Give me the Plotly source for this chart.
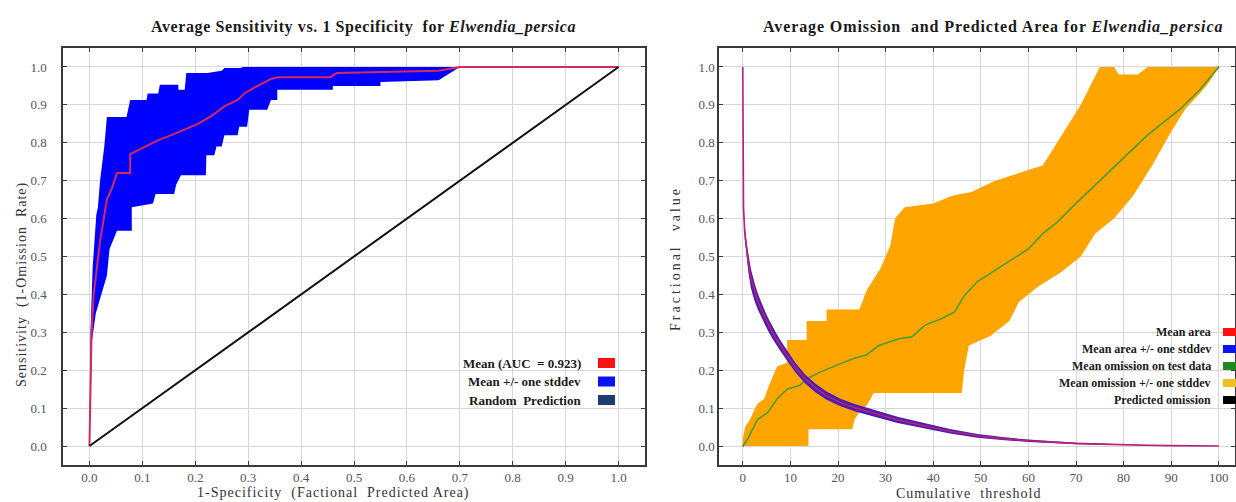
import plotly.graph_objects as go

W, H = 1236, 502

# ---------------- Left chart: ROC ----------------
roc_mean_x = [0, 0.002, 0.004, 0.008, 0.0125, 0.02, 0.033, 0.0425, 0.052, 0.077, 0.077, 0.105,
              0.13, 0.155, 0.18, 0.205, 0.23, 0.255, 0.28, 0.2925, 0.3175, 0.3425, 0.355,
              0.455, 0.4675, 0.58, 0.66, 0.70, 1.0]
roc_mean_y = [0, 0.15, 0.30, 0.40, 0.45, 0.54, 0.65, 0.68, 0.72, 0.72, 0.77, 0.79,
              0.807, 0.82, 0.834, 0.85, 0.87, 0.896, 0.913, 0.93, 0.95, 0.968, 0.973,
              0.973, 0.984, 0.988, 0.99, 1.0, 1.0]

roc_upper_x = [0, 0.002, 0.006, 0.013, 0.016, 0.02, 0.028, 0.033, 0.07, 0.077, 0.108, 0.11,
               0.13, 0.133, 0.168, 0.168, 0.18, 0.183, 0.223, 0.25, 0.255, 0.286, 0.29, 1.0]
roc_upper_y = [0, 0.30, 0.47, 0.61, 0.63, 0.70, 0.79, 0.868, 0.868, 0.913, 0.913, 0.93,
               0.93, 0.953, 0.953, 0.94, 0.94, 0.984, 0.984, 0.99, 0.997, 0.997, 1.0, 1.0]

roc_lower_x = [0, 0.003, 0.005, 0.012, 0.024, 0.033, 0.038, 0.052, 0.08, 0.08, 0.12, 0.125,
               0.16, 0.164, 0.173, 0.22, 0.221, 0.236, 0.24, 0.25, 0.255, 0.28, 0.283, 0.298,
               0.302, 0.336, 0.343, 0.355, 0.355, 0.46, 0.46, 0.55, 0.55, 0.66, 0.70, 1.0]
roc_lower_y = [0, 0.20, 0.28, 0.35, 0.41, 0.45, 0.52, 0.568, 0.568, 0.63, 0.64, 0.665,
               0.665, 0.69, 0.714, 0.714, 0.767, 0.767, 0.79, 0.79, 0.82, 0.82, 0.842, 0.842,
               0.887, 0.887, 0.913, 0.913, 0.94, 0.94, 0.95, 0.95, 0.96, 0.965, 1.0, 1.0]

random_x = [0, 1]
random_y = [0, 1]

# ---------------- Right chart: omission / area ----------------
area_x = [0, 0.03, 0.15, 0.4, 0.8, 1.2, 1.7, 2.5, 3.2, 4.1, 5.1, 6.2, 7.0, 7.9, 9.5, 11.0,
          13.1, 15.3, 17.6, 20.5, 23.8, 27.2, 32.5, 38.3, 43.5, 49.3, 55, 60, 65, 70, 75,
          80, 85, 90, 95, 100]
area_mean = [1.0, 0.72, 0.63, 0.565, 0.515, 0.48, 0.442, 0.405, 0.38, 0.354, 0.326, 0.300,
             0.283, 0.265, 0.235, 0.208, 0.177, 0.153, 0.133, 0.115, 0.100, 0.088, 0.069,
             0.053, 0.039, 0.027, 0.019, 0.014, 0.010, 0.007, 0.005, 0.003, 0.002, 0.001,
             0.0005, 0.0]
area_sd = [0.0, 0.004, 0.012, 0.018, 0.022, 0.025, 0.026, 0.024, 0.021, 0.019, 0.017, 0.016,
           0.015, 0.014, 0.013, 0.0125, 0.012, 0.0115, 0.011, 0.010, 0.0095, 0.009, 0.008,
           0.007, 0.006, 0.005, 0.004, 0.003, 0.0025, 0.002, 0.0015, 0.001, 0.0008,
           0.0005, 0.0003, 0.0]

om_mean_x = [0, 1, 3.1, 5.2, 7.2, 9.3, 12, 13.4, 16.2, 19.7, 23.1, 25.9, 28.6, 32.8, 35.5,
             38.3, 41.7, 44.5, 46.6, 49.3, 55, 60, 63, 66, 70, 75, 80, 85, 90, 92, 96, 98, 100]
om_mean_y = [0, 0.018, 0.07, 0.088, 0.124, 0.15, 0.16, 0.177, 0.195, 0.212, 0.23, 0.24,
             0.265, 0.283, 0.288, 0.319, 0.336, 0.354, 0.398, 0.434, 0.48, 0.52, 0.56, 0.59,
             0.64, 0.70, 0.76, 0.82, 0.87, 0.89, 0.94, 0.97, 1.0]

om_upper_x = [0, 0.5, 1.5, 3, 4.5, 5.5, 7.2, 9.3, 9.3, 13.4, 13.4, 17.6, 17.6, 24.5, 26,
              27.5, 29, 31, 32, 34, 40, 44, 48, 53, 58, 63, 66, 69, 71, 73, 75, 78, 79, 83,
              85, 100]
om_upper_y = [0.02, 0.05, 0.07, 0.11, 0.125, 0.16, 0.21, 0.22, 0.28, 0.28, 0.33, 0.33, 0.36,
              0.36, 0.41, 0.44, 0.47, 0.53, 0.60, 0.63, 0.64, 0.66, 0.67, 0.70, 0.72, 0.74,
              0.80, 0.86, 0.90, 0.95, 1.0, 1.0, 0.98, 0.98, 1.0, 1.0]

om_lower_x = [0, 13.8, 13.8, 23, 23.5, 24.5, 26, 27.5, 46, 46.5, 47.5, 52, 56, 58, 62, 67,
              71, 74, 78, 82, 86, 90, 93, 96, 98, 100]
om_lower_y = [0, 0, 0.044, 0.044, 0.07, 0.09, 0.106, 0.14, 0.14, 0.20, 0.265, 0.29, 0.33,
              0.38, 0.42, 0.46, 0.50, 0.56, 0.60, 0.66, 0.74, 0.83, 0.89, 0.93, 0.96, 1.0]

pred_om_x = [0, 100]
pred_om_y = [0, 1]

x_ticks_left = [0, 0.1, 0.2, 0.3, 0.4, 0.5, 0.6, 0.7, 0.8, 0.9, 1.0]
x_ticktext_left = ["0.0", "0.1", "0.2", "0.3", "0.4", "0.5", "0.6", "0.7", "0.8", "0.9", "1.0"]
y_ticks = [0, 0.1, 0.2, 0.3, 0.4, 0.5, 0.6, 0.7, 0.8, 0.9, 1.0]
y_ticktext = ["0.0", "0.1", "0.2", "0.3", "0.4", "0.5", "0.6", "0.7", "0.8", "0.9", "1.0"]
x_ticks_right = [0, 10, 20, 30, 40, 50, 60, 70, 80, 90, 100]

left_legend = ["Mean (AUC  = 0.923)", "Mean +/- one stddev", "Random  Prediction"]
left_legend_colors = ["#ff1010", "#0a14f0", "#1c3c78"]
right_legend = ["Mean area", "Mean area +/- one stddev", "Mean omission on test data",
                "Mean omission +/- one stddev", "Predicted omission"]
right_legend_colors = ["#ff1010", "#0a14f0", "#1e8a1e", "#f0c020", "#000000"]

# ---------------- Figure ----------------
fig = go.Figure()

# left
fig.add_trace(go.Scatter(x=roc_lower_x + roc_upper_x[::-1], y=roc_lower_y + roc_upper_y[::-1],
                         fill="toself", fillcolor="#0000ff", line=dict(width=0),
                         mode="lines", xaxis="x", yaxis="y", hoverinfo="skip"))
fig.add_trace(go.Scatter(x=roc_mean_x, y=roc_mean_y, mode="lines",
                         line=dict(color="#d42a5c", width=2), xaxis="x", yaxis="y"))
fig.add_trace(go.Scatter(x=random_x, y=random_y, mode="lines",
                         line=dict(color="#111111", width=2), xaxis="x", yaxis="y"))

# right
fig.add_trace(go.Scatter(x=pred_om_x, y=pred_om_y, mode="lines",
                         line=dict(color="#000000", width=1.5), xaxis="x2", yaxis="y2"))
fig.add_trace(go.Scatter(x=om_lower_x + om_upper_x[::-1], y=om_lower_y + om_upper_y[::-1],
                         fill="toself", fillcolor="#ffa500", line=dict(width=0),
                         mode="lines", xaxis="x2", yaxis="y2", hoverinfo="skip"))
fig.add_trace(go.Scatter(x=om_mean_x, y=om_mean_y, mode="lines",
                         line=dict(color="#4f9a35", width=1.6), xaxis="x2", yaxis="y2"))
area_up = [m + s for m, s in zip(area_mean, area_sd)]
area_lo = [max(m - s, 0) for m, s in zip(area_mean, area_sd)]
fig.add_trace(go.Scatter(x=area_x + area_x[::-1], y=area_lo + area_up[::-1],
                         fill="toself", fillcolor="#4a1fb0", line=dict(width=0),
                         mode="lines", xaxis="x2", yaxis="y2", hoverinfo="skip"))
fig.add_trace(go.Scatter(x=area_x, y=area_mean, mode="lines",
                         line=dict(color="#b8207a", width=1.6), xaxis="x2", yaxis="y2"))

def px(x):
    return x / W

def py(y):
    return 1 - y / H

SERIF = "Liberation Serif, Times New Roman, DejaVu Serif, serif"
tickfont = dict(family=SERIF, size=13, color="#555555")
common = dict(showgrid=True, gridcolor="#d6d6d6", gridwidth=1, zeroline=False,
              showline=True, linecolor="#3a3a3a", linewidth=1.5, mirror="allticks",
              ticks="inside", ticklen=4, tickcolor="#3a3a3a", tickfont=tickfont)

ydom = [py(465), py(48)]
fig.update_layout(
    width=W, height=H, margin=dict(l=0, r=0, t=0, b=0),
    paper_bgcolor="white", plot_bgcolor="white", showlegend=False,
    xaxis=dict(domain=[px(63), px(645)], range=[-0.05, 1.05], tickvals=x_ticks_left,
               ticktext=x_ticktext_left, anchor="y", **common),
    yaxis=dict(domain=ydom, range=[-0.05, 1.05], tickvals=y_ticks, ticktext=y_ticktext,
               anchor="x", ticklabelstandoff=12, **common),
    xaxis2=dict(domain=[px(719), px(1235)], range=[-5, 103.4], tickvals=x_ticks_right,
                anchor="y2", **common),
    yaxis2=dict(domain=ydom, range=[-0.05, 1.05], tickvals=y_ticks, ticktext=y_ticktext,
                anchor="x2", **common),
)

def spaced(t, sp):
    return "<span style='letter-spacing:%spx'>%s</span>" % (sp, t)

annots = []
titlefont = dict(family=SERIF, size=16, color="#1a1a1a")
annots.append(dict(text=spaced("<b>Average Sensitivity vs. 1 Specificity  for <i>Elwendia_persica</i></b>", 0.6),
                   x=px(363), y=py(27), xref="paper", yref="paper", showarrow=False,
                   xanchor="center", yanchor="middle", font=titlefont))
annots.append(dict(text=spaced("<b>Average Omission  and Predicted Area for <i>Elwendia_persica</i></b>", 0.9),
                   x=px(993), y=py(27), xref="paper", yref="paper", showarrow=False,
                   xanchor="center", yanchor="middle", font=titlefont))
axfont = dict(family=SERIF, size=14, color="#333333")
annots.append(dict(text=spaced("1-Specificity  (Factional  Predicted Area)", 1), x=px(333), y=py(493),
                   xref="paper", yref="paper", showarrow=False, xanchor="center",
                   yanchor="middle", font=axfont))
annots.append(dict(text=spaced("Sensitivity  (1-Omission  Rate)", 1), x=px(22), y=py(285), textangle=-90,
                   xref="paper", yref="paper", showarrow=False, xanchor="center",
                   yanchor="middle", font=axfont))
annots.append(dict(text=spaced("Cumulative  threshold", 1), x=px(968), y=py(493),
                   xref="paper", yref="paper", showarrow=False, xanchor="center",
                   yanchor="middle", font=axfont))
annots.append(dict(text=spaced("Fractional  value", 3), x=px(675), y=py(259), textangle=-90,
                   xref="paper", yref="paper", showarrow=False, xanchor="center",
                   yanchor="middle", font=axfont))

shapes = []
legfont_l = dict(family=SERIF, size=13, color="#1a1a1a")
for i, (t, c) in enumerate(zip(left_legend, left_legend_colors)):
    yc = 363 + i * 18.5
    annots.append(dict(text="<b>" + t + "</b>", x=px(583), y=py(yc), xref="paper", yref="paper",
                       showarrow=False, xanchor="right", yanchor="middle", font=legfont_l))
    shapes.append(dict(type="rect", xref="paper", yref="paper", x0=px(598), x1=px(615),
                       y0=py(yc + 5), y1=py(yc - 5), fillcolor=c, line=dict(width=0)))
legfont_r = dict(family=SERIF, size=12, color="#1a1a1a")
for i, (t, c) in enumerate(zip(right_legend, right_legend_colors)):
    yc = 332 + i * 17
    annots.append(dict(text="<b>" + t + "</b>", x=px(1213), y=py(yc), xref="paper", yref="paper",
                       showarrow=False, xanchor="right", yanchor="middle", font=legfont_r))
    shapes.append(dict(type="rect", xref="paper", yref="paper", x0=px(1223), x1=px(1236),
                       y0=py(yc + 4), y1=py(yc - 4), fillcolor=c, line=dict(width=0)))

fig.update_layout(annotations=annots, shapes=shapes)
fig.write_html("out.html", config={"displayModeBar": False},
               post_script="document.body.style.margin='0px';")
